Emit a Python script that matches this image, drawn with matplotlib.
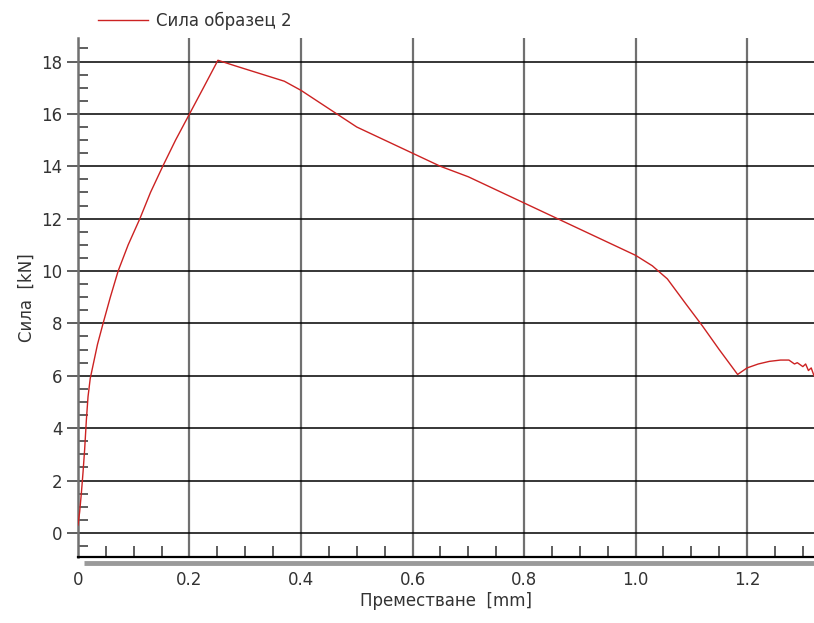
import matplotlib
matplotlib.use("Agg")
import matplotlib.pyplot as plt
from matplotlib.ticker import MultipleLocator, FuncFormatter

x_mm = [0.0, 0.003, 0.006, 0.009, 0.012, 0.015, 0.018, 0.022, 0.028, 0.035, 0.045, 0.058,
        0.072, 0.09, 0.111, 0.13, 0.152, 0.175, 0.2, 0.225, 0.251, 0.28, 0.31, 0.34, 0.37,
        0.4, 0.45, 0.5, 0.55, 0.6, 0.65, 0.7, 0.75, 0.8, 0.85, 0.9, 0.95, 1.0, 1.03,
        1.057, 1.09, 1.12, 1.15, 1.183, 1.2, 1.22, 1.24, 1.26, 1.275, 1.285, 1.29, 1.3,
        1.305, 1.31, 1.315, 1.32]
force_kN = [0.3, 0.8, 1.5, 2.3, 3.2, 4.3, 5.2, 5.9, 6.5, 7.2, 8.0, 9.0,
            10.0, 11.0, 12.0, 13.0, 14.0, 15.0, 16.0, 17.0, 18.05, 17.85, 17.65, 17.45, 17.25,
            16.9, 16.2, 15.5, 15.0, 14.5, 14.0, 13.6, 13.1, 12.6, 12.1, 11.6, 11.1, 10.6, 10.2,
            9.7, 8.75, 7.9, 7.0, 6.05, 6.3, 6.45, 6.55, 6.6, 6.6, 6.45, 6.5, 6.35,
            6.45, 6.2, 6.3, 6.0]

series_label = "Сила образец 2"
x_label = "Преместване  [mm]"
y_label = "Сила  [kN]"

fig = plt.figure(figsize=(8.14, 6.23), dpi=100)
ax = fig.add_axes([0.0958, 0.106, 0.9042, 0.833])

ax.set_xlim(0, 1.32)
ax.set_ylim(-0.92, 18.9)

# grid
for gx in [0.2, 0.4, 0.6, 0.8, 1.0, 1.2]:
    ax.axvline(gx, color="#707070", lw=1.6, zorder=1)
for gy in range(0, 19, 2):
    ax.axhline(gy, color="black", lw=1.1, zorder=1)

line, = ax.plot(x_mm, force_kN, color="#cc2222", lw=1.0, zorder=3, label=series_label)

ax.xaxis.set_major_locator(MultipleLocator(0.2))
ax.xaxis.set_minor_locator(MultipleLocator(0.05))
ax.yaxis.set_major_locator(MultipleLocator(2))
ax.yaxis.set_minor_locator(MultipleLocator(0.5))
ax.xaxis.set_major_formatter(FuncFormatter(lambda v, p: "0" if abs(v) < 1e-9 else f"{v:.1f}"))

ax.tick_params(axis="y", which="major", direction="out", length=8, width=1.1, color="#333333",
               labelsize=12, labelcolor="#333333", pad=3)
ax.tick_params(axis="y", which="minor", direction="in", length=7, width=1.1, color="#333333")
ax.tick_params(axis="x", which="major", direction="in", length=0, labelsize=12,
               labelcolor="#333333", pad=10)
ax.tick_params(axis="x", which="minor", direction="in", length=8, width=1.1, color="#333333")

for s in ["top", "right"]:
    ax.spines[s].set_visible(False)
ax.spines["left"].set_color("#707070")
ax.spines["left"].set_linewidth(1.8)
ax.spines["bottom"].set_color("black")
ax.spines["bottom"].set_linewidth(1.6)

# shadow under bottom axis
ax.plot([0.01, 1.32], [-0.92 - 0.22, -0.92 - 0.22], color="#9a9a9a", lw=3.5,
        clip_on=False, zorder=0, solid_capstyle="butt")

ax.set_xlabel(x_label, fontsize=12, color="#333333", labelpad=2)
ax.set_ylabel(y_label, fontsize=12, color="#333333", labelpad=4)

fig.legend(handles=[line], loc="upper left", bbox_to_anchor=(0.102, 1.005), frameon=False,
           fontsize=12, handlelength=3.0, handletextpad=0.5, labelcolor="#333333")

fig.savefig("out.png", dpi=100)
